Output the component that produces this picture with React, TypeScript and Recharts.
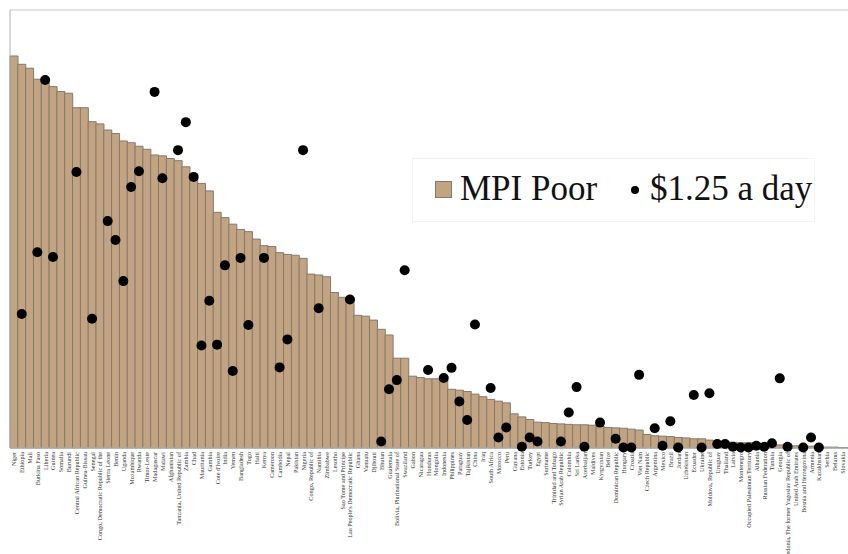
import React from 'react';
import { ComposedChart, Bar, Line, XAxis, YAxis, CartesianGrid, Legend } from 'recharts';

const countries = [
  'Niger', 'Ethiopia', 'Mali', 'Burkina Faso', 'Liberia', 'Guinea', 'Somalia', 'Burundi',
  'Central African Republic', 'Guinea-Bissau', 'Senegal', 'Congo, Democratic Republic of the',
  'Sierra Leone', 'Benin', 'Uganda', 'Mozambique', 'Rwanda', 'Timor-Leste', 'Madagascar', 'Malawi',
  'Afghanistan', 'Tanzania, United Republic of', 'Zambia', 'Chad', 'Mauritania', 'Gambia',
  "Cote d'Ivoire", 'India', 'Yemen', 'Bangladesh', 'Togo', 'Haiti', 'Kenya', 'Cameroon', 'Cambodia',
  'Nepal', 'Pakistan', 'Nigeria', 'Congo, Republic of', 'Namibia', 'Zimbabwe', 'Lesotho',
  'Sao Tome and Principe', "Lao People's Democratic Republic", 'Ghana', 'Vanuatu', 'Djibouti',
  'Bhutan', 'Guatemala', 'Bolivia, Plurinational State of', 'Swaziland', 'Gabon', 'Nicaragua',
  'Honduras', 'Mongolia', 'Indonesia', 'Philippines', 'Paraguay', 'Tajikistan', 'China', 'Iraq',
  'South Africa', 'Morocco', 'Peru', 'Guyana', 'Estonia', 'Turkey', 'Egypt', 'Suriname',
  'Trinidad and Tobago', 'Syrian Arab Republic', 'Colombia', 'Sri Lanka', 'Azerbaijan', 'Maldives',
  'Kyrgyzstan', 'Belize', 'Dominican Republic', 'Hungary', 'Croatia', 'Viet Nam', 'Czech Republic',
  'Argentina', 'Mexico', 'Brazil', 'Jordan', 'Uzbekistan', 'Ecuador', 'Ukraine', 'Moldova, Republic of',
  'Uruguay', 'Thailand', 'Latvia', 'Montenegro', 'Occupied Palestinian Territory', 'Albania',
  'Russian Federation', 'Tunisia', 'Georgia', 'Macedonia, The former Yugoslav Republic of',
  'United Arab Emirates', 'Bosnia and Herzegovina', 'Armenia', 'Kazakhstan', 'Serbia', 'Belarus',
  'Slovakia', 'Slovenia',
];

const mpiPoor = [
  89.5, 87.6, 86.7, 84.2, 83.4, 82.5, 81.4, 81.0, 77.7, 77.7,
  74.5, 74.0, 72.6, 71.8, 70.1, 69.7, 68.9, 68.2, 66.9, 66.7,
  66.1, 65.6, 64.2, 61.9, 60.4, 58.7, 53.8, 52.6, 51.1, 49.9,
  49.4, 47.7, 46.2, 46.0, 44.6, 44.2, 44.0, 43.3, 39.7, 39.5,
  39.1, 35.5, 34.4, 34.3, 30.3, 30.1, 29.2, 27.1, 25.8, 20.5,
  20.5, 16.4, 16.1, 15.8, 15.8, 15.5, 13.4, 13.2, 12.9, 12.3,
  11.7, 11.1, 10.7, 10.3, 7.8, 7.1, 6.5, 5.9, 5.8, 5.6,
  5.5, 5.4, 5.3, 5.3, 5.2, 5.0, 4.7, 4.6, 4.5, 4.3,
  4.1, 3.1, 2.8, 2.7, 2.6, 2.4, 2.3, 2.1, 2.1, 1.8,
  1.4, 1.4, 1.3, 1.2, 1.2, 1.1, 1.0, 0.7, 0.7, 0.6,
  0.5, 0.5, 0.4, 0.4, 0.2, 0.2, 0.1, 0.1,
];

const dollarADay: (number | null)[] = [
  null, 30.6, null, 44.7, 84.0, 43.6, null, null, 63.0, null,
  29.5, null, 51.8, 47.5, 38.1, 59.6, 63.2, null, 81.3, 61.6,
  null, 68.0, 74.4, 61.9, 23.4, 33.6, 23.6, 41.7, 17.6, 43.4,
  28.1, null, 43.4, null, 18.4, 24.8, null, 68.0, null, 31.9,
  null, null, null, 33.9, null, null, null, 1.5, 13.4, 15.5,
  40.6, null, null, 17.8, null, 16.0, 18.3, 10.6, 6.4, 28.2,
  null, 13.7, 2.4, 4.7, null, 0.3, 2.4, 1.5, null, null,
  1.5, 8.1, 13.9, 0.3, null, 5.8, null, 2.1, 0.1, 0.1,
  16.7, null, 4.5, 0.5, 6.1, 0.1, null, 12.1, 0.1, 12.5,
  0.9, 0.9, 0.3, 0.1, 0.1, 0.5, 0.3, 1.1, 15.9, 0.3,
  null, 0.1, 2.4, 0.1, null, null, null, null,
];

const yTicks = [0, 10, 20, 30, 40, 50, 60, 70, 80, 90, 100];

const legendLabels = ['MPI Poor', '$1.25 a day'];

const data = countries.map((c, i) => ({ name: c, mpi: mpiPoor[i], usd: dollarADay[i] }));

const BAR_FILL = '#C3A482';
const BAR_STROKE = '#85796c';
const SERIF = '"Liberation Serif", "DejaVu Serif", serif';

const CatTick = (props: any) => {
  const { x, payload } = props;
  const y = 452;
  return (
    <text
      x={x}
      y={y}
      transform={`rotate(-90 ${x} ${y})`}
      textAnchor="end"
      dominantBaseline="central"
      fontSize={6.2}
      fontFamily={SERIF}
      fill="#333"
    >
      {payload.value}
    </text>
  );
};

const LegendBox = () => (
  <div
    style={{
      width: 403,
      height: 64,
      background: '#fff',
      border: '1px solid #f2f2f2',
      boxSizing: 'border-box',
      position: 'relative',
      fontFamily: SERIF,
      color: '#111',
    }}
  >
    <div
      style={{
        position: 'absolute',
        left: 22,
        top: 22,
        width: 17,
        height: 17,
        background: BAR_FILL,
        border: '1px solid ' + BAR_STROKE,
        boxSizing: 'border-box',
      }}
    />
    <div style={{ position: 'absolute', left: 47, top: 10, fontSize: 35, lineHeight: '40px', whiteSpace: 'nowrap' }}>
      {legendLabels[0]}
    </div>
    <div
      style={{
        position: 'absolute',
        left: 218,
        top: 27,
        width: 8,
        height: 8,
        borderRadius: 4,
        background: '#000',
      }}
    />
    <div style={{ position: 'absolute', left: 237, top: 10, fontSize: 35, lineHeight: '40px', whiteSpace: 'nowrap' }}>
      {legendLabels[1]}
    </div>
  </div>
);

export default function App() {
  return (
    <div style={{ position: 'fixed', left: 0, top: 0, width: 848, height: 554, overflow: 'hidden', background: '#fff' }}>
      <ComposedChart
        width={854}
        height={554}
        data={data}
        margin={{ top: 10, right: 0, left: 0, bottom: 0 }}
        barCategoryGap={0}
        barGap={0}
      >
        <CartesianGrid vertical={false} stroke="#c6c6c6" />
        <XAxis
          dataKey="name"
          interval={0}
          height={106}
          tick={<CatTick />}
          tickLine={false}
          axisLine={{ stroke: '#bdbdbd' }}
        />
        <YAxis
          domain={[0, 100]}
          ticks={yTicks}
          width={10}
          tick={false}
          tickSize={4}
          tickLine={{ stroke: '#b0b0b0' }}
          axisLine={{ stroke: '#b0b0b0' }}
        />
        <Legend
          layout="horizontal"
          verticalAlign="middle"
          align="center"
          content={() => <LegendBox />}
          wrapperStyle={{ position: 'absolute', left: 412, top: 158, width: 403, height: 64 }}
        />
        <Bar dataKey="mpi" fill={BAR_FILL} stroke={BAR_STROKE} strokeWidth={1} isAnimationActive={false} />
        <Line
          dataKey="usd"
          stroke="none"
          dot={{ r: 5, fill: '#000', stroke: '#000', strokeWidth: 0 }}
          activeDot={false}
          isAnimationActive={false}
          connectNulls={false}
        />
      </ComposedChart>
    </div>
  );
}
